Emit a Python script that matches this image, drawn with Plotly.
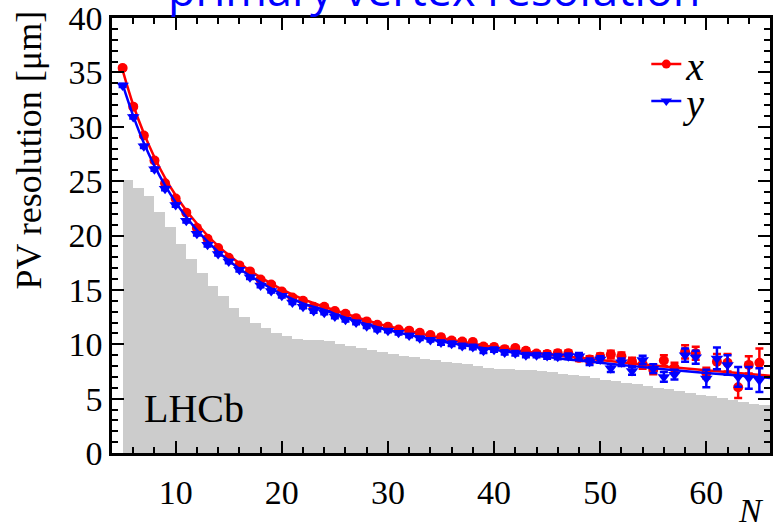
import plotly.graph_objects as go

# ---- data ----
N = list(range(5, 66))

res_x = [35.4, 31.85, 29.2, 26.9, 24.8, 23.4, 22.1, 20.7, 19.7, 18.85,
         17.95, 17.25, 16.7, 15.95, 15.5, 14.85, 14.3, 14.0, 13.45, 13.45,
         13.05, 12.8, 12.4, 12.1, 11.8, 11.6, 11.35, 11.25, 11.05, 10.85,
         10.65, 10.35, 10.25, 10.2, 9.8, 9.75, 9.55, 9.65, 9.4, 9.15,
         9.1, 9.17, 9.17, 8.75, 8.6, 8.86, 9.05, 8.9, 8.4, 8.15,
         7.65, 8.5, 7.85, 9.3, 9.17, 7.35, 8.4, 8.3, 6.05, 8.1, 8.3]
err_x = [0.15]*10 + [0.15]*10 + [0.15]*10 + [0.2]*10 + \
        [0.25, 0.25, 0.25, 0.3, 0.3, 0.3, 0.35, 0.35, 0.35, 0.4,
         0.4, 0.5, 0.45, 0.6, 0.6, 0.5, 0.7, 0.8, 1.0, 0.8, 1.3]

res_y = [33.8, 30.9, 28.2, 26.1, 24.3, 22.8, 21.35, 20.15, 19.15, 18.3,
         17.6, 16.85, 16.15, 15.4, 14.9, 14.45, 13.85, 13.45, 13.05, 12.9,
         12.55, 12.25, 12.0, 11.65, 11.35, 11.25, 11.05, 10.8, 10.55, 10.4,
         10.15, 10.05, 9.85, 9.75, 9.4, 9.5, 9.25, 9.17, 9.0, 9.0,
         8.92, 8.86, 8.9, 8.9, 8.4, 8.6, 7.8, 8.35, 7.55, 8.55,
         7.75, 7.0, 7.2, 9.0, 8.8, 6.85, 8.7, 8.1, 7.0, 6.9, 6.7]
err_y = [0.15]*10 + [0.15]*10 + [0.15]*10 + [0.2]*10 + \
        [0.25, 0.25, 0.25, 0.3, 0.3, 0.3, 0.35, 0.35, 0.35, 0.4,
         0.4, 0.45, 0.45, 0.6, 0.6, 0.8, 1.0, 0.9, 0.9, 1.0, 1.1]

fit_N = [5, 6, 7, 8, 9, 10, 11, 12, 13, 14, 15, 16, 18, 20, 22, 24, 26, 28,
         30, 33, 36, 40, 44, 48, 52, 56, 60, 66]
fit_x = [35.2, 32.0, 29.4, 27.2, 25.3, 23.7, 22.3, 21.1, 20.0, 19.05, 18.2,
         17.45, 16.15, 15.05, 14.15, 13.45, 12.8, 12.2, 11.65, 11.0, 10.4,
         9.75, 9.2, 8.75, 8.35, 7.95, 7.6, 7.1]
fit_y = [33.9, 31.0, 28.5, 26.4, 24.6, 23.05, 21.7, 20.5, 19.45, 18.5, 17.7,
         16.95, 15.7, 14.6, 13.75, 13.15, 12.45, 11.85, 11.3, 10.65, 10.1,
         9.5, 8.95, 8.5, 8.1, 7.7, 7.35, 6.9]

# grey histogram (N distribution, arbitrary scale), bins [N, N+1)
hist_lo = list(range(5, 66))
hist_val = [25.1, 24.4, 23.65, 22.2, 20.8, 19.2, 17.8, 16.55, 15.4, 14.4,
            13.3, 12.5, 11.95, 11.5, 11.05, 10.75, 10.5, 10.4, 10.35, 10.3,
            10.0, 9.8, 9.65, 9.5, 9.25, 9.1, 8.95, 8.8, 8.65, 8.55,
            8.4, 8.25, 8.15, 8.0, 7.85, 7.75, 7.7, 7.65, 7.6, 7.55,
            7.45, 7.3, 7.15, 7.05, 6.9, 6.75, 6.6, 6.45, 6.3, 6.15,
            6.0, 5.85, 5.7, 5.55, 5.35, 5.2, 5.05, 4.9, 4.7, 4.55, 4.45]

serif = "Liberation Serif, Times New Roman, serif"

fig = go.Figure()
fig.add_trace(go.Bar(x=[v + 0.5 for v in hist_lo], y=hist_val, width=1,
                     marker=dict(color="#cccccc", line=dict(width=0)),
                     showlegend=False, hoverinfo="skip"))
fig.add_trace(go.Scatter(x=N, y=res_x, mode="markers",
                         marker=dict(symbol="circle", size=10, color="red"),
                         error_y=dict(type="data", array=err_x, color="red",
                                      thickness=2.5, width=4),
                         showlegend=False))
fig.add_trace(go.Scatter(x=fit_N, y=fit_x, mode="lines", line_shape="spline",
                         line=dict(color="red", width=2.5), showlegend=False))
fig.add_trace(go.Scatter(x=N, y=res_y, mode="markers",
                         marker=dict(symbol="triangle-down", size=11, color="blue"),
                         error_y=dict(type="data", array=err_y, color="blue",
                                      thickness=2.5, width=4),
                         showlegend=False))
fig.add_trace(go.Scatter(x=fit_N, y=fit_y, mode="lines", line_shape="spline",
                         line=dict(color="blue", width=2.5), showlegend=False))
# legend entries (one legend box each)
fig.add_trace(go.Scatter(x=[None], y=[None], mode="lines+markers", name="<i>x</i>",
                         marker=dict(symbol="circle", size=9, color="red"),
                         line=dict(color="red", width=2.5), legend="legend"))
fig.add_trace(go.Scatter(x=[None], y=[None], mode="lines+markers", name="<i>y</i>",
                         marker=dict(symbol="triangle-down", size=10, color="blue"),
                         line=dict(color="blue", width=2.5), legend="legend2"))

axis_common = dict(showline=True, linecolor="black", linewidth=2.5, mirror="ticks",
                   ticks="inside", tickcolor="black", tickwidth=2, ticklen=12,
                   showgrid=False, zeroline=False, ticklabeloverflow="allow",
                   tickfont=dict(family=serif, size=34, color="black"))

fig.update_xaxes(range=[4, 66], tick0=0, dtick=10,
                 minor=dict(ticks="inside", dtick=2, ticklen=6, tickwidth=2,
                            tickcolor="black", showgrid=False),
                 ticklabelstandoff=7, **axis_common)
fig.update_yaxes(range=[0, 40], tick0=0, dtick=5,
                 minor=dict(ticks="inside", dtick=1, ticklen=6, tickwidth=2,
                            tickcolor="black", showgrid=False),
                 ticklabelstandoff=0, **axis_common)

leg_common = dict(x=0.812, xanchor="left", yanchor="middle",
                  bgcolor="rgba(0,0,0,0)", itemwidth=30,
                  font=dict(family=serif, size=40, color="black"))

fig.update_layout(
    width=773, height=528,
    margin=dict(l=112, r=0, t=18, b=75),
    paper_bgcolor="white", plot_bgcolor="white",
    bargap=0,
    legend=dict(y=0.894, **leg_common),
    legend2=dict(y=0.809, **leg_common),
    annotations=[
        dict(text="primary vertex resolution", xref="paper", yref="paper",
             x=0.49, y=1.0, yshift=-3, xanchor="center", yanchor="bottom",
             showarrow=False,
             font=dict(family="Open Sans, DejaVu Sans, sans-serif", size=45, color="blue")),
        dict(text="PV resolution [μm]", xref="paper", yref="paper",
             x=0, xshift=-84, y=1.0, yshift=9, textangle=-90,
             xanchor="center", yanchor="top", showarrow=False,
             font=dict(family=serif, size=36, color="black")),
        dict(text="<i>N</i>", xref="paper", yref="paper",
             x=1.0, xshift=-4, y=0, yshift=-37, xanchor="right", yanchor="top",
             showarrow=False, font=dict(family=serif, size=34, color="black")),
        dict(text="LHCb", xref="paper", yref="paper",
             x=0.045, y=0.045, xanchor="left", yanchor="bottom",
             showarrow=False, font=dict(family=serif, size=40, color="black")),
    ],
)

fig.write_html("out.html")
